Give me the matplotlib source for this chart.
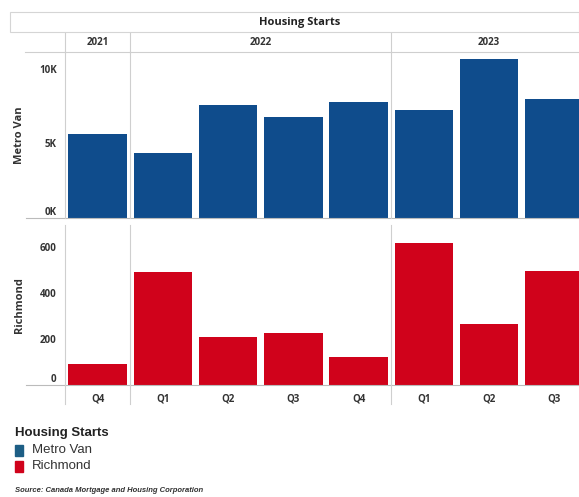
import matplotlib
matplotlib.use("Agg")
import matplotlib.pyplot as plt
from matplotlib.patches import Rectangle

quarters = ["Q4", "Q1", "Q2", "Q3", "Q4", "Q1", "Q2", "Q3"]
years = ["2021", "2022", "2023"]
year_spans = [(0, 0), (1, 4), (5, 7)]
metro_van = [5640, 4360, 7580, 6780, 7790, 7250, 10670, 7990]
richmond = [90, 490, 210, 225, 120, 615, 265, 495]

BLUE = "#0f4c8c"
RED = "#d0021b"
GRID = "#cfcfcf"
TXT = "#333333"

W, H = 579, 497
fig = plt.figure(figsize=(W / 100, H / 100), dpi=100)

def ax_px(x0, y0, x1, y1):
    return fig.add_axes([x0 / W, 1 - y1 / H, (x1 - x0) / W, (y1 - y0) / H])

LEFT, RIGHT = 65, 587
tick_font = dict(family="Open Sans", fontsize=7, fontweight="bold", color=TXT)

ax1 = ax_px(LEFT, 52, RIGHT, 218)
ax2 = ax_px(LEFT, 225, RIGHT, 385)
xs = list(range(len(quarters)))
ax1.bar(xs, metro_van, width=0.9, color=BLUE)
ax2.bar(xs, richmond, width=0.9, color=RED)
ax1.set_ylim(0, 11140)
ax2.set_ylim(0, 695)
ax1.set_yticks([0, 5000, 10000])
ax1.set_yticklabels(["0K", "5K", "10K"], **tick_font)
ax2.set_yticks([0, 200, 400, 600])
ax2.set_yticklabels(["0", "200", "400", "600"], **tick_font)
for ax in (ax1, ax2):
    ax.set_xlim(-0.5, 7.5)
    for s in ax.spines.values():
        s.set_visible(False)
    ax.tick_params(axis="y", length=0, pad=6)
    ax.tick_params(axis="x", length=0)
    ax.axhline(0, color="#bbbbbb", lw=0.8, xmin=-0.075, clip_on=False)
    ax.set_facecolor("none")
    ax.get_yticklabels()[0].set_va("bottom")
ax1.set_xticks([])
ax2.set_xticks(xs)
ax2.set_xticklabels(quarters, **tick_font)
ax2.tick_params(axis="x", pad=6)

ax1.set_ylabel("Metro Van", fontsize=8, fontweight="bold", family="Open Sans", color=TXT, labelpad=10)
ax2.set_ylabel("Richmond", fontsize=8, fontweight="bold", family="Open Sans", color=TXT, labelpad=11)

# Header row with years
axh = ax_px(LEFT, 33, RIGHT, 52)
axh.set_xlim(-0.5, 7.5)
axh.set_ylim(0, 1)
axh.axis("off")
for yr, (a, b) in zip(years, year_spans):
    axh.text((a + b) / 2, 0.5, yr, ha="center", va="center", **tick_font)
fig.add_artist(plt.Line2D([25 / W, 1], [1 - 52 / H, 1 - 52 / H], color=GRID, lw=0.8))

# vertical dividers
for xv in [-0.5, 0.5, 4.5]:
    for ax in (axh, ax1, ax2):
        ax.axvline(xv, color=GRID, lw=0.8, clip_on=False)
    ax2.axvline(xv, ymin=-0.12, ymax=0, color=GRID, lw=0.8, clip_on=False)

# Title box
fig.add_artist(Rectangle((10 / W, 1 - 32 / H), (W - 10) / W, 20 / H, fill=False,
                         edgecolor="#d5d5d5", lw=0.8))
fig.text(300 / W, 1 - 23 / H, "Housing Starts", ha="center", va="center",
         family="Open Sans", fontsize=8, fontweight="bold", color="#222222")

# Legend
fig.text(15 / W, 1 - 433 / H, "Housing Starts", ha="left", va="center",
         family="Liberation Sans", fontsize=9.5, fontweight="bold", color="#222222")
for i, (lab, col) in enumerate([("Metro Van", "#1d5e85"), ("Richmond", RED)]):
    yc = 450 + 16 * i
    fig.add_artist(Rectangle((15 / W, 1 - (yc + 6) / H), 8 / W, 11 / H, color=col))
    fig.text(32 / W, 1 - yc / H, lab, ha="left", va="center",
             family="Liberation Sans", fontsize=9.5, color="#333333")
fig.text(15 / W, 1 - 490 / H, "Source: Canada Mortgage and Housing Corporation",
         ha="left", va="center", family="Liberation Sans", fontsize=5.5,
         fontweight="bold", style="italic", color="#333333")

fig.savefig("out.png", dpi=100)
